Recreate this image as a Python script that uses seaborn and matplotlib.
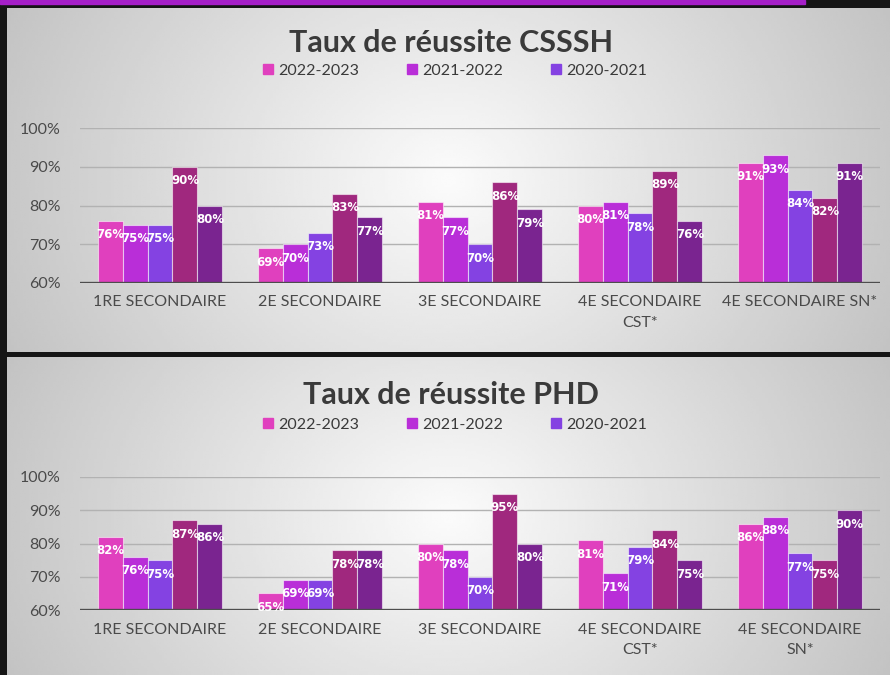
import numpy as np
import pandas as pd
import matplotlib.pyplot as plt
import seaborn as sns
from matplotlib.patches import Patch, Rectangle
from matplotlib.ticker import PercentFormatter

# niveaux (x) et années (séries)
niveaux_csssh = ["1RE SECONDAIRE", "2E SECONDAIRE", "3E SECONDAIRE",
                 "4E SECONDAIRE\nCST*", "4E SECONDAIRE SN*"]
niveaux_phd = ["1RE SECONDAIRE", "2E SECONDAIRE", "3E SECONDAIRE",
               "4E SECONDAIRE\nCST*", "4E SECONDAIRE\nSN*"]
annees = ["2022-2023", "2021-2022", "2020-2021", "série 4", "série 5"]

# taux de réussite CSSSH (%)
csssh_2223 = [76, 69, 81, 80, 91]
csssh_2122 = [75, 70, 77, 81, 93]
csssh_2021 = [75, 73, 70, 78, 84]
csssh_s4 = [90, 83, 86, 89, 82]
csssh_s5 = [80, 77, 79, 76, 91]

# taux de réussite PHD (%)
phd_2223 = [82, 65, 80, 81, 86]
phd_2122 = [76, 69, 78, 71, 88]
phd_2021 = [75, 69, 70, 79, 77]
phd_s4 = [87, 78, 95, 84, 75]
phd_s5 = [86, 78, 80, 75, 90]

couleurs = ["#E040BE", "#B92ED8", "#8442E2", "#A0287E", "#7A2490"]

plt.rcParams["font.family"] = ["Lato", "DejaVu Sans"]


def to_long(niveaux, series):
    rows = []
    for annee, vals in zip(annees, series):
        for niv, v in zip(niveaux, vals):
            rows.append({"niveau": niv, "annee": annee, "taux": v})
    return pd.DataFrame(rows)


df1 = to_long(niveaux_csssh, [csssh_2223, csssh_2122, csssh_2021, csssh_s4, csssh_s5])
df2 = to_long(niveaux_phd, [phd_2223, phd_2122, phd_2021, phd_s4, phd_s5])

W, H = 890, 675
fig = plt.figure(figsize=(W / 100, H / 100), dpi=100, facecolor="#151515")

# purple strip at the top
fig.patches.append(Rectangle((0, 1 - 4 / H), 805 / W, 4 / H, transform=fig.transFigure,
                             color="#A51FC8", zorder=0))


def gradient_panel(x0, y0, x1, y1):
    bg = fig.add_axes([x0 / W, 1 - y1 / H, (x1 - x0) / W, (y1 - y0) / H])
    xx, yy = np.meshgrid(np.linspace(-1, 1, 300), np.linspace(-1, 1, 120))
    d = np.sqrt((xx / 1.0) ** 2 + (yy / 2.2) ** 2)
    img = 0.985 - 0.2 * np.clip(d, 0, 1.2)
    bg.imshow(img, cmap="gray", vmin=0, vmax=1, aspect="auto", extent=[0, 1, 0, 1])
    bg.set_axis_off()
    return bg


gradient_panel(7, 8, 890, 352)
gradient_panel(7, 357, 890, 675)


def draw_panel(df, niveaux, titre, top, bottom, title_y, legend_y):
    ax = fig.add_axes([80 / W, 1 - bottom / H, 800 / W, (bottom - top) / H])
    ax.set_facecolor("none")
    sns.barplot(data=df, x="niveau", y="taux", hue="annee", order=niveaux,
                hue_order=annees, palette=couleurs, saturation=1, width=0.78, gap=0,
                edgecolor=(1, 1, 1, 0.55), linewidth=0.8, legend=False, ax=ax,
                zorder=3)
    ax.set_ylim(60, 100)
    ax.set_yticks([60, 70, 80, 90, 100])
    ax.yaxis.set_major_formatter(PercentFormatter(decimals=0))
    ax.yaxis.grid(True, color="#b2b2b2", lw=1)
    ax.set_axisbelow(True)
    ax.axhline(60, color="#4d4d4d", lw=2.4, zorder=4)
    for s in ax.spines.values():
        s.set_visible(False)
    ax.tick_params(length=0, colors="#4a4a4a", labelsize=11.5)
    ax.tick_params(axis="y", pad=14)
    ax.tick_params(axis="x", pad=9)
    for lab in ax.get_xticklabels():
        lab.set_linespacing(1.55)
        lab.set_verticalalignment("top")
    ax.set_xlabel("")
    ax.set_ylabel("")

    for cont in ax.containers:
        for bar, v in zip(cont, cont.datavalues):
            ax.annotate(f"{v:.0f}%", (bar.get_x() + bar.get_width() / 2, bar.get_height()),
                        xytext=(0, -10), textcoords="offset points",
                        ha="center", va="center", color="white",
                        fontsize=8.5, fontweight="bold", family="DejaVu Sans", zorder=5)

    fig.text(451 / W, 1 - title_y / H, titre, ha="center", va="center",
             fontsize=22, fontweight="bold", color="#3a3a3a")
    handles = [Patch(color=c) for c in couleurs[:3]]
    fig.legend(handles, annees[:3], loc="center", bbox_to_anchor=(455 / W, 1 - legend_y / H),
               ncol=3, frameon=False, fontsize=11.5, labelcolor="#3a3a3a",
               handlelength=0.6, handleheight=0.6, handletextpad=0.35, columnspacing=3.0)
    return ax


draw_panel(df1, niveaux_csssh, "Taux de réussite CSSSH", 128, 283, 43, 71)
draw_panel(df2, niveaux_phd, "Taux de réussite PHD", 477, 610, 395, 425)

fig.savefig("out.png", dpi=100, facecolor=fig.get_facecolor())
